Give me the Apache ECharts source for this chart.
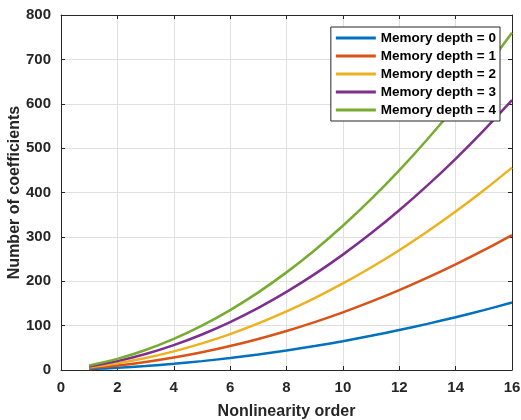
<!DOCTYPE html>
<html>
<head>
<meta charset="utf-8">
<script src="https://cdn.jsdelivr.net/npm/echarts@6/dist/echarts.min.js"></script>
<style>
  html, body { margin: 0; padding: 0; background: #fff; }
  #chart { width: 521px; height: 420px; }
</style>
</head>
<body>
<div id="chart"></div>
<script>
// nonlinearity order
var orders = [1, 2, 3, 4, 5, 6, 7, 8, 9, 10, 11, 12, 13, 14, 15, 16];
var seriesNames = ['Memory depth = 0', 'Memory depth = 1', 'Memory depth = 2', 'Memory depth = 3', 'Memory depth = 4'];
var depth0 = [2, 5, 9, 14, 20, 27, 35, 44, 54, 65, 77, 90, 104, 119, 135, 152];
var depth1 = [4, 10, 18, 28, 40, 54, 70, 88, 108, 130, 154, 180, 208, 238, 270, 304];
var depth2 = [6, 15, 27, 42, 60, 81, 105, 132, 162, 195, 231, 270, 312, 357, 405, 456];
var depth3 = [8, 20, 36, 56, 80, 108, 140, 176, 216, 260, 308, 360, 416, 476, 540, 608];
var depth4 = [10, 25, 45, 70, 100, 135, 175, 220, 270, 325, 385, 450, 520, 595, 675, 760];
var colors = ['#0072BD', '#D95319', '#EDB120', '#7E2F8E', '#77AC30'];

document.addEventListener('DOMContentLoaded', function () {
  var myChart = echarts.init(document.getElementById('chart'));
  var allData = [depth0, depth1, depth2, depth3, depth4];

  var series = allData.map(function (d, i) {
    return {
      name: seriesNames[i],
      type: 'line',
      data: d.map(function (v, j) { return [orders[j], v]; }),
      showSymbol: false,
      smooth: 0.3,
      lineStyle: { width: 2.5, color: colors[i] },
      itemStyle: { color: colors[i] },
      z: 3
    };
  });

  var axisText = { color: '#262626', fontWeight: 'bold', fontSize: 15, margin: 10, fontFamily: 'Liberation Sans, Arial' };

  var option = {
    animation: false,
    grid: { left: 61, right: 9, top: 15, bottom: 50, containLabel: false, outerBoundsMode: 'none' },
    legend: {
      orient: 'vertical',
      right: 21,
      top: 27,
      data: seriesNames,
      icon: 'rect',
      itemWidth: 40,
      itemHeight: 3,
      itemGap: 4,
      padding: [4, 4, 4, 5],
      backgroundColor: '#fff',
      borderColor: '#262626',
      borderWidth: 1,
      borderRadius: 0,
      textStyle: { color: '#000', fontWeight: 'bold', fontSize: 13.5, fontFamily: 'Liberation Sans, Arial' }
    },
    xAxis: [{
      type: 'value',
      min: 0, max: 16, interval: 2,
      name: 'Nonlinearity order',
      nameLocation: 'middle',
      nameGap: 34,
      nameMoveOverlap: false,
      nameTextStyle: { color: '#262626', fontWeight: 'bold', fontSize: 16, fontFamily: 'Liberation Sans, Arial' },
      axisLine: { show: true, onZero: false, lineStyle: { color: '#262626', width: 1 } },
      axisTick: { show: true, inside: true, length: 4, lineStyle: { color: '#262626' } },
      axisLabel: axisText,
      splitLine: { show: true, lineStyle: { color: '#e0e0e0', width: 1 } }
    }, {
      type: 'value',
      position: 'top',
      min: 0, max: 16, interval: 2,
      axisLine: { show: true, onZero: false, lineStyle: { color: '#262626', width: 1 } },
      axisTick: { show: true, inside: true, length: 4, lineStyle: { color: '#262626' } },
      axisLabel: { show: false },
      splitLine: { show: false }
    }],
    yAxis: [{
      type: 'value',
      min: 0, max: 800, interval: 100,
      name: 'Number of coefficients',
      nameLocation: 'middle',
      nameGap: 38,
      nameMoveOverlap: false,
      nameTextStyle: { color: '#262626', fontWeight: 'bold', fontSize: 16, fontFamily: 'Liberation Sans, Arial' },
      axisLine: { show: true, onZero: false, lineStyle: { color: '#262626', width: 1 } },
      axisTick: { show: true, inside: true, length: 4, lineStyle: { color: '#262626' } },
      axisLabel: axisText,
      splitLine: { show: true, lineStyle: { color: '#e0e0e0', width: 1 } }
    }, {
      type: 'value',
      position: 'right',
      min: 0, max: 800, interval: 100,
      axisLine: { show: true, onZero: false, lineStyle: { color: '#262626', width: 1 } },
      axisTick: { show: true, inside: true, length: 4, lineStyle: { color: '#262626' } },
      axisLabel: { show: false },
      splitLine: { show: false }
    }],
    series: series
  };

  myChart.setOption(option);
  window.addEventListener('resize', function () { myChart.resize(); });
});
</script>
</body>
</html>
